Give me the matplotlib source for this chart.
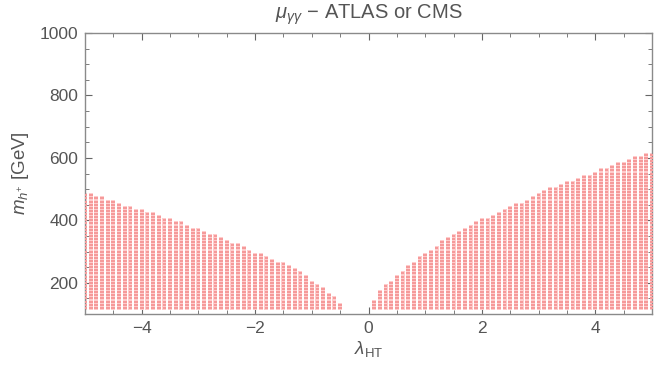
import numpy as np
import matplotlib
matplotlib.use("Agg")
import matplotlib.pyplot as plt
from matplotlib.ticker import MultipleLocator

plt.rcParams['font.family'] = ['Liberation Sans', 'DejaVu Sans']
plt.rcParams['mathtext.fontset'] = 'custom'
plt.rcParams['mathtext.it'] = 'Liberation Sans:italic'
plt.rcParams['mathtext.rm'] = 'Liberation Sans'

# lambda_HT columns and maximal allowed charged Higgs mass (GeV) per column
lam_left = [-5.0, -4.9, -4.8, -4.7, -4.6, -4.5, -4.4, -4.3, -4.2, -4.1,
            -4.0, -3.9, -3.8, -3.7, -3.6, -3.5, -3.4, -3.3, -3.2, -3.1,
            -3.0, -2.9, -2.8, -2.7, -2.6, -2.5, -2.4, -2.3, -2.2, -2.1,
            -2.0, -1.9, -1.8, -1.7, -1.6, -1.5, -1.4, -1.3, -1.2, -1.1,
            -1.0, -0.9, -0.8, -0.7, -0.6, -0.5]
mmax_left = [480, 480, 470, 470, 460, 460, 450, 440, 440, 430,
             430, 420, 420, 410, 400, 400, 390, 390, 380, 370,
             370, 360, 350, 350, 340, 330, 320, 320, 310, 300,
             290, 290, 280, 270, 260, 260, 250, 240, 230, 220,
             200, 190, 180, 160, 150, 130]
lam_right = [0.1, 0.2, 0.3, 0.4, 0.5, 0.6, 0.7, 0.8, 0.9, 1.0,
             1.1, 1.2, 1.3, 1.4, 1.5, 1.6, 1.7, 1.8, 1.9, 2.0,
             2.1, 2.2, 2.3, 2.4, 2.5, 2.6, 2.7, 2.8, 2.9, 3.0,
             3.1, 3.2, 3.3, 3.4, 3.5, 3.6, 3.7, 3.8, 3.9, 4.0,
             4.1, 4.2, 4.3, 4.4, 4.5, 4.6, 4.7, 4.8, 4.9, 5.0]
mmax_right = [140, 170, 190, 200, 220, 230, 250, 260, 280, 290,
              300, 310, 330, 340, 350, 360, 370, 380, 390, 400,
              400, 410, 420, 430, 440, 450, 450, 460, 470, 480,
              490, 500, 500, 510, 520, 520, 530, 540, 540, 550,
              560, 560, 570, 580, 580, 590, 600, 600, 610, 610]
m_min = 120
m_step = 10

xs, ys = [], []
for lam, mm in zip(lam_left + lam_right, mmax_left + mmax_right):
    for m in range(m_min, mm + 1, m_step):
        xs.append(lam)
        ys.append(m)
xs = np.array(xs); ys = np.array(ys)

fig = plt.figure(figsize=(6.72, 3.72), dpi=100)
ax = fig.add_axes([85/672, 1-314/372, (652-85)/672, (314-33)/372])

ax.scatter(xs, ys, marker='s', s=5, color='#ffcccc', linewidths=0, zorder=2)
ax.scatter(xs - 0.015, ys, marker='s', s=0.6, color='#f59a9a', linewidths=0, zorder=3)
ax.scatter(xs + 0.015, ys, marker='s', s=0.6, color='#f59a9a', linewidths=0, zorder=3)

ax.set_xlim(-5, 5)
ax.set_ylim(100, 1000)
ax.xaxis.set_major_locator(MultipleLocator(2))
ax.xaxis.set_minor_locator(MultipleLocator(0.5))
ax.yaxis.set_major_locator(MultipleLocator(200))
ax.yaxis.set_minor_locator(MultipleLocator(50))

gray = '#555555'
for sp in ax.spines.values():
    sp.set_color('#8a8a8a')
    sp.set_linewidth(1.0)
ax.tick_params(which='both', direction='in', top=True, right=True,
               colors='#666666', labelcolor=gray, labelsize=12.5)
ax.tick_params(which='major', length=5, width=0.8, pad=5)
ax.tick_params(which='minor', length=3, width=0.6)
ax.set_xticks([-4, -2, 0, 2, 4])
ax.set_xticklabels(['\u22124', '\u22122', '0', '2', '4'])

ax.set_title(r'$\mu_{\gamma\gamma}$ $-$ ATLAS or CMS', color=gray, fontsize=14.5, pad=10)
ax.set_xlabel(r'$\lambda_{\rm HT}$', color=gray, fontsize=13.5, labelpad=2)
ax.set_ylabel(r'$m_{h^{+}}$ [GeV]', color=gray, fontsize=13.5, labelpad=6)

fig.savefig('out.png', dpi=100)
